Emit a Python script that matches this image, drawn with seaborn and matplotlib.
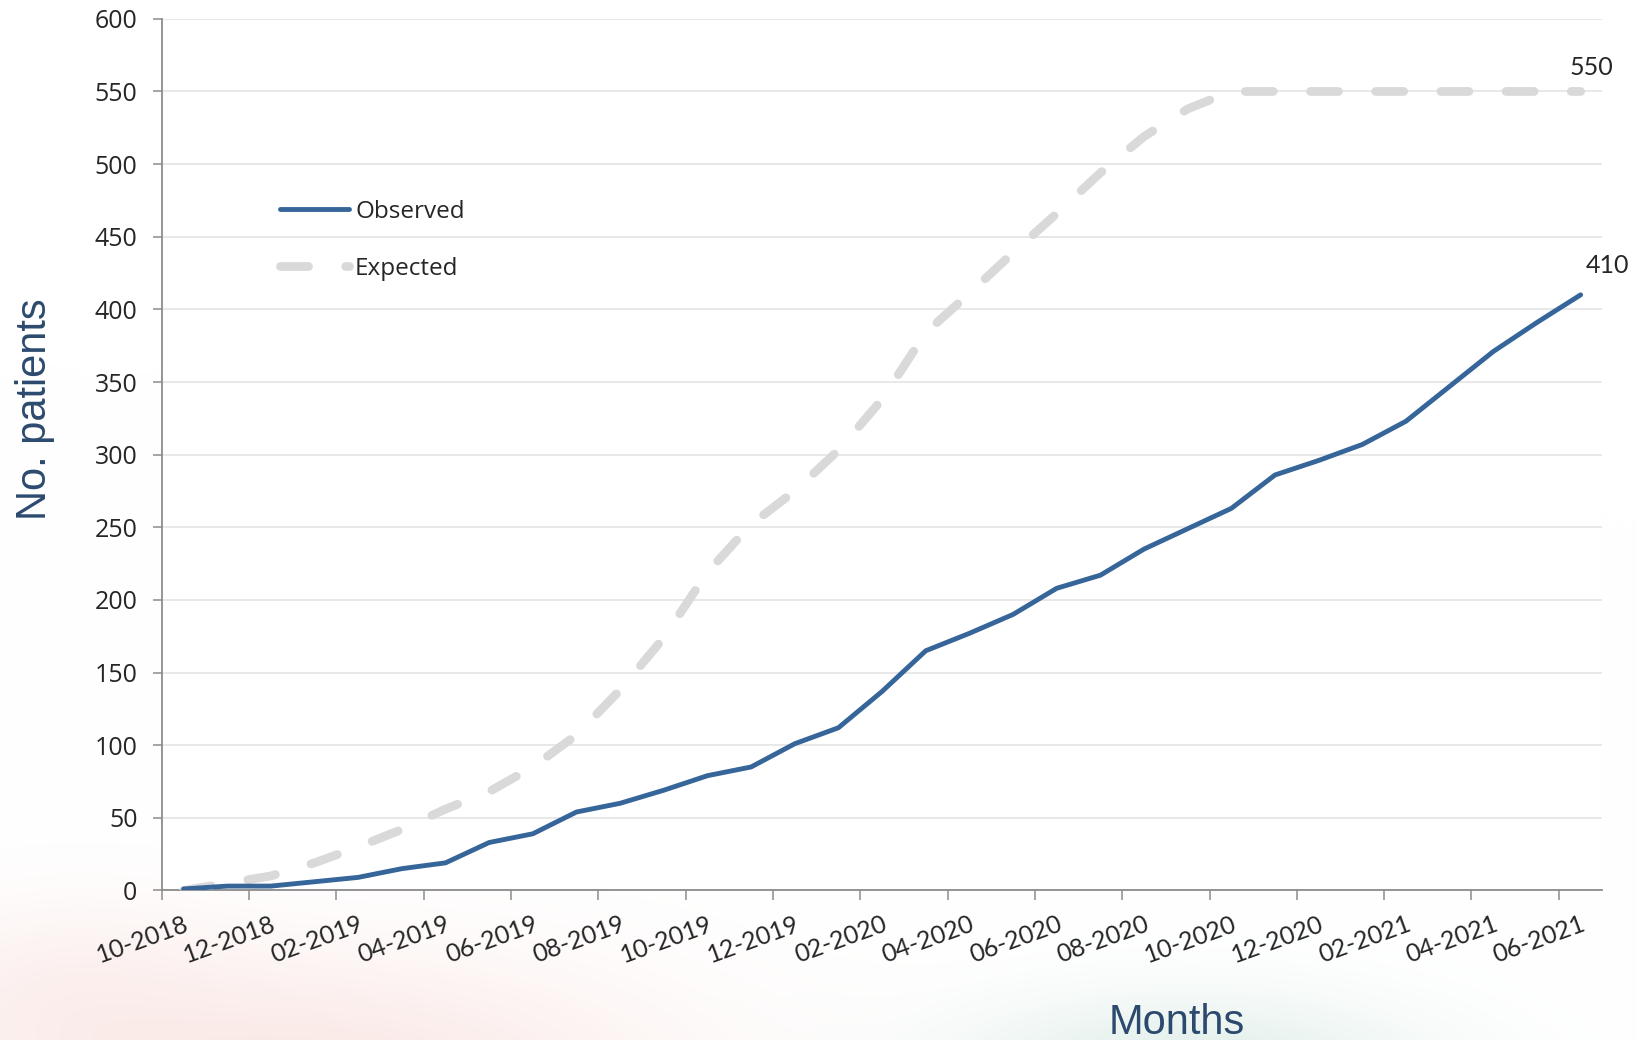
import matplotlib
matplotlib.use("Agg")
import matplotlib.pyplot as plt
import seaborn as sns
import pandas as pd
import numpy as np

# ---- data -------------------------------------------------------------
months = ["10-2018", "11-2018", "12-2018", "01-2019", "02-2019", "03-2019",
          "04-2019", "05-2019", "06-2019", "07-2019", "08-2019", "09-2019",
          "10-2019", "11-2019", "12-2019", "01-2020", "02-2020", "03-2020",
          "04-2020", "05-2020", "06-2020", "07-2020", "08-2020", "09-2020",
          "10-2020", "11-2020", "12-2020", "01-2021", "02-2021", "03-2021",
          "04-2021", "05-2021", "06-2021"]
observed = [1, 3, 3, 6, 9, 15, 19, 33, 39, 54, 60, 69, 79, 85, 101, 112, 137,
            165, 177, 190, 208, 217, 235, 249, 263, 286, 296, 307, 323, 347,
            371, 391, 410]
expected = [0, 5, 10, 19, 30, 42, 56, 68, 85, 107, 138, 174, 219, 252, 275,
            303, 338, 384, 411, 439, 466, 494, 519, 538, 550, 550, 550, 550,
            550, 550, 550, 550, 550]
y_ticks = [0, 50, 100, 150, 200, 250, 300, 350, 400, 450, 500, 550, 600]

df = pd.DataFrame({"month": months, "Observed": observed, "Expected": expected})
df["pos"] = np.arange(len(months))

# ---- style ------------------------------------------------------------
sns.set_style("white")
plt.rcParams["font.family"] = ["Open Sans", "DejaVu Sans"]

BLUE = "#36659A"
GREY = "#D9D9D9"
AXIS = "#8C8C8C"
TITLE = "#2C4A6E"

W, H = 1637, 1040
fig = plt.figure(figsize=(W / 100, H / 100), dpi=100)

# soft watercolour wash in the background (decoration only)
bg = fig.add_axes([0, 0, 1, 1], zorder=-10)
bg.set_axis_off()
yy, xx = np.mgrid[0:H:4, 0:W:4]
img = np.ones(yy.shape + (3,))
for (cx, cy, sx, sy, col, a) in [
    (300, 1075, 360, 120, (246, 214, 209), 0.55),
    (60, 990, 160, 90, (247, 220, 216), 0.30),
    (1190, 1070, 230, 75, (205, 228, 221), 0.60),
]:
    wgt = a * np.exp(-((xx - cx) / sx) ** 2 - ((yy - cy) / sy) ** 2)
    c = np.array(col) / 255.0
    img = img * (1 - wgt[..., None]) + c * wgt[..., None]
bg.imshow(img, extent=(0, W, H, 0), aspect="auto", interpolation="bilinear")

ax = fig.add_axes([0.0988, 0.1438, 0.8801, 0.8381])
ax.set_facecolor("white")

sns.lineplot(data=df, x="pos", y="Expected", ax=ax, color=GREY, linewidth=6.3,
             label="Expected", zorder=2)
exp_line = ax.lines[-1]
exp_line.set_dashes((3.2, 4.25))
exp_line.set_dash_capstyle("round")
exp_line.set_solid_capstyle("round")

sns.lineplot(data=df, x="pos", y="Observed", ax=ax, color=BLUE, linewidth=3.5,
             label="Observed", zorder=3)
obs_line = ax.lines[-1]
obs_line.set_solid_capstyle("round")

# axes limits / ticks
ax.set_xlim(-0.5, len(months) - 0.5)
ax.set_ylim(0, 600)
ax.set_yticks(y_ticks)
ax.set_yticklabels([str(v) for v in y_ticks])

ax.set_xticks(np.arange(-0.5, len(months), 2))
ax.set_xticklabels([])
ax.set_xticks(np.arange(0, len(months), 2), minor=True)
ax.set_xticklabels(months[::2], minor=True, rotation=20, ha="right",
                   rotation_mode="anchor", fontsize=18, family="Lato")

ax.tick_params(axis="x", which="major", length=7, width=1.1, color=AXIS,
               direction="out")
ax.tick_params(axis="x", which="minor", length=0, pad=16)
ax.tick_params(axis="y", length=6.5, width=1.1, color=AXIS, pad=11,
               labelsize=18, direction="out")
ax.tick_params(axis="both", bottom=True, left=True)

ax.set_xlabel("")
ax.set_ylabel("")
ax.yaxis.grid(True, color="#E6E6E6", linewidth=1.3)
ax.xaxis.grid(False)
ax.set_axisbelow(True)

for s in ["top", "right"]:
    ax.spines[s].set_visible(False)
for s in ["left", "bottom"]:
    ax.spines[s].set_color(AXIS)
    ax.spines[s].set_linewidth(1.3)
    ax.spines[s].set_zorder(1)

# legend
handles, labels = ax.get_legend_handles_labels()
order = [labels.index("Observed"), labels.index("Expected")]
leg = ax.legend([handles[i] for i in order], [labels[i] for i in order],
                loc="upper left", bbox_to_anchor=(280 / W, 1 - 199.5 / H),
                bbox_transform=fig.transFigure, frameon=False, fontsize=17.5,
                handlelength=2.84, handletextpad=0.25, labelspacing=1.37,
                borderpad=0, borderaxespad=0)

# end labels
ax.annotate(f"{expected[-1]}", xy=(df["pos"].iloc[-1], expected[-1]),
            xytext=(8, 17), textcoords="offset points", ha="center",
            va="center", fontsize=18, family="Lato")
ax.annotate(f"{observed[-1]}", xy=(df["pos"].iloc[-1], observed[-1]),
            xytext=(19, 21), textcoords="offset points", ha="center",
            va="center", fontsize=18, family="Lato")

# axis titles
fig.text(35 / W, 1 - 409 / H, "No. patients", rotation=90,
         ha="center", va="center", fontsize=30, color=TITLE,
         family="Liberation Sans")
fig.text(1177 / W, 1 - 1023 / H, "Months", ha="center", va="center",
         fontsize=30, color=TITLE, family="Liberation Sans")

fig.savefig("out.png", dpi=100)
